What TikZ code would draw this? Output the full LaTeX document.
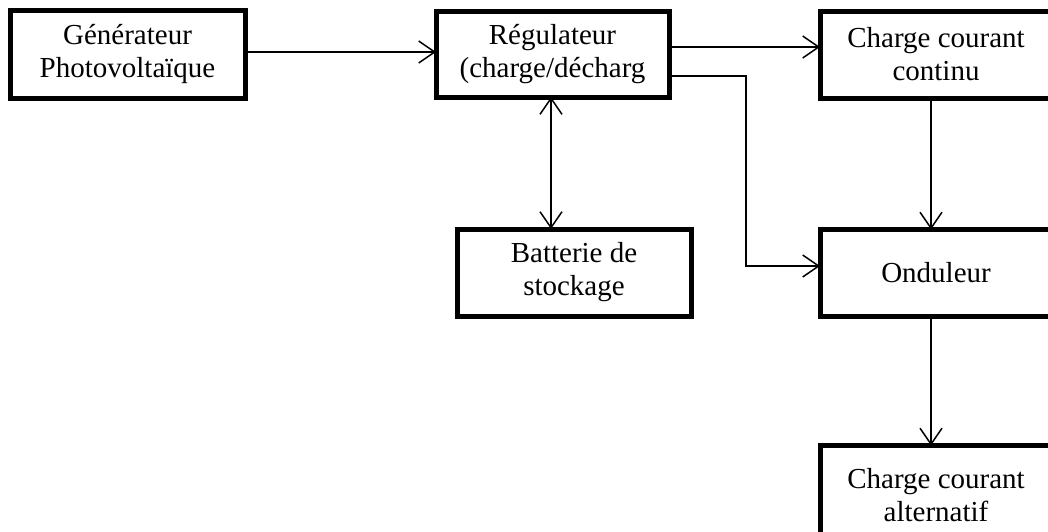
\documentclass[tikz,border=0pt]{standalone}
\usepackage{fontspec}
\setmainfont{Liberation Serif}
\usetikzlibrary{arrows.meta}
\tikzset{
  boxnode/.style={draw=black, line width=5pt, fill=white, inner sep=0pt, outer sep=0pt,
    minimum width=234pt, minimum height=87pt, align=center,
    font=\fontsize{29}{33}\selectfont},
  tip/.tip={Straight Barb[length=16pt,width=22pt,line width=1.5pt]},
  arr/.style={line width=1.5pt, -tip},
  darr/.style={line width=1.5pt, tip-tip}
}
\begin{document}
\begin{tikzpicture}[x=1pt,y=-1pt]
\useasboundingbox (0,0) rectangle (1048,531);
\clip (0,0) rectangle (1048,531);
\fill[white] (0,0) rectangle (1048,531);
\node[boxnode, minimum width=235pt, minimum height=88pt] (gen) at (127.5,54) {Générateur\\Photovoltaïque};
\node[boxnode, minimum width=233pt, minimum height=86pt] (reg) at (552.5,54) {Régulateur\\(charge/décharg};
\node[boxnode, minimum width=232pt] (cc) at (936,54.5) {Charge courant\\continu};
\node[boxnode] (bat) at (574,272.5) {Batterie de\\stockage};
\node[boxnode, minimum width=232pt] (ond) at (936,273) {Onduleur};
\node[boxnode, minimum width=232pt, minimum height=100pt] (ca) at (936,495.5) {Charge courant\\alternatif};
\coordinate (bend) at (746,76);
\draw[arr] (gen.east |- 0,52) -- (reg.west |- 0,52);
\draw[arr] (reg.east |- 0,47) -- (cc.west |- 0,47);
\draw[arr] (reg.east |- bend) -- (bend) |- (ond.west |- 0,266);
\draw[darr] (reg.south -| 551,0) -- (bat.north -| 551,0);
\draw[arr] (cc.south -| 931,0) -- (ond.north -| 931,0);
\draw[arr] (ond.south -| 931,0) -- (ca.north -| 931,0);
\end{tikzpicture}
\end{document}
